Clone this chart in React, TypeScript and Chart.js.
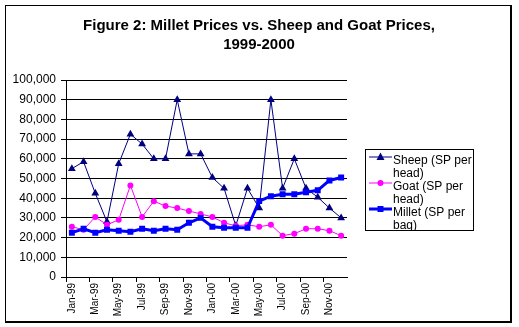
import React, { useEffect, useRef } from "react";
import { Chart, registerables } from "chart.js";

Chart.register(...registerables);

const months = [
  "Jan-99", "Feb-99", "Mar-99", "Apr-99", "May-99", "Jun-99",
  "Jul-99", "Aug-99", "Sep-99", "Oct-99", "Nov-99", "Dec-99",
  "Jan-00", "Feb-00", "Mar-00", "Apr-00", "May-00", "Jun-00",
  "Jul-00", "Aug-00", "Sep-00", "Oct-00", "Nov-00", "Dec-00",
];

const sheep = [
  55000, 58500, 42500, 28000, 57500, 72500, 67500, 60000, 60000, 90000, 62500, 62500,
  50500, 45000, 26000, 45000, 35000, 90000, 45000, 60000, 45000, 40500, 35000, 30000,
];

const goat = [
  25500, 24000, 30500, 26500, 29000, 46500, 30500, 38500, 36000, 35000, 33500, 32000,
  30500, 27500, 26000, 26500, 25500, 26500, 21000, 22000, 24500, 24500, 23500, 21000,
];

const millet = [
  22500, 24500, 22500, 24000, 23500, 23000, 24500, 23500, 24500, 24000, 27500, 30000,
  25500, 25000, 25000, 25000, 38500, 41000, 42000, 42000, 43000, 44000, 49000, 50500,
];

const titleLines = ["Figure 2: Millet Prices vs. Sheep and Goat Prices,", "1999-2000"];

const legendItems = [
  { lines: ["Sheep (SP per", "head)"], color: "#000080", width: 1, marker: "triangle" },
  { lines: ["Goat (SP per", "head)"], color: "#FF00FF", width: 1, marker: "circle" },
  { lines: ["Millet (SP per", "bag)"], color: "#0000FF", width: 3, marker: "square" },
];

const FONT = "Arial, 'Liberation Sans', sans-serif";

function drawMarker(ctx: CanvasRenderingContext2D, type: string, x: number, y: number, color: string) {
  ctx.fillStyle = color;
  ctx.beginPath();
  if (type === "triangle") {
    ctx.moveTo(x, y - 4.5);
    ctx.lineTo(x + 4, y + 3);
    ctx.lineTo(x - 4, y + 3);
    ctx.closePath();
  } else if (type === "circle") {
    ctx.arc(x, y, 3, 0, Math.PI * 2);
  } else {
    ctx.rect(x - 3, y - 3, 6, 6);
  }
  ctx.fill();
}

const decorPlugin = {
  id: "decor",
  beforeDraw(chart: any) {
    const ctx = chart.ctx as CanvasRenderingContext2D;
    ctx.save();
    ctx.fillStyle = "#ffffff";
    ctx.fillRect(0, 0, chart.width, chart.height);
    ctx.restore();
  },
  afterDraw(chart: any) {
    const ctx = chart.ctx as CanvasRenderingContext2D;
    ctx.save();
    // outer frame with shadowed right/bottom edges
    ctx.fillStyle = "#000000";
    ctx.fillRect(5, 5, 507, 1);
    ctx.fillRect(5, 5, 1, 318);
    ctx.fillRect(510, 5, 2, 318);
    ctx.fillRect(5, 321, 507, 2);

    // title
    ctx.fillStyle = "#000000";
    ctx.font = `bold 15px ${FONT}`;
    ctx.textAlign = "center";
    ctx.textBaseline = "alphabetic";
    ctx.fillText(titleLines[0], 259, 30);
    ctx.fillText(titleLines[1], 259, 49);

    // legend box
    const bx = 365.5, by = 149.5, bw = 108, bh = 81;
    ctx.fillStyle = "#ffffff";
    ctx.fillRect(bx, by, bw, bh);
    ctx.strokeStyle = "#000000";
    ctx.lineWidth = 1;
    ctx.strokeRect(bx, by, bw, bh);
    ctx.save();
    ctx.beginPath();
    ctx.rect(bx + 0.5, by + 0.5, bw - 1, bh - 1);
    ctx.clip();
    ctx.font = `12px ${FONT}`;
    ctx.textAlign = "left";
    ctx.fillStyle = "#000000";
    legendItems.forEach((item, i) => {
      const base = 164 + i * 26;
      const ly = base - 7;
      ctx.strokeStyle = item.color;
      ctx.lineWidth = item.width;
      ctx.beginPath();
      ctx.moveTo(369, ly);
      ctx.lineTo(392, ly);
      ctx.stroke();
      drawMarker(ctx, item.marker, 380.5, ly, item.color);
      ctx.fillStyle = "#000000";
      item.lines.forEach((t, j) => ctx.fillText(t, 393, base + j * 13));
    });
    ctx.restore();
    ctx.restore();
  },
};

export default function App() {
  const ref = useRef<HTMLCanvasElement | null>(null);

  useEffect(() => {
    if (!ref.current) return;
    const chart = new Chart(ref.current, {
      type: "line",
      data: {
        labels: months,
        datasets: [
          {
            label: "Sheep (SP per head)",
            data: sheep,
            borderColor: "#000080",
            backgroundColor: "#000080",
            borderWidth: 1,
            pointStyle: "triangle",
            pointRadius: 4.5,
            pointBorderWidth: 0,
            order: 3,
          },
          {
            label: "Goat (SP per head)",
            data: goat,
            borderColor: "#FF00FF",
            backgroundColor: "#FF00FF",
            borderWidth: 1,
            pointStyle: "circle",
            pointRadius: 3,
            pointBorderWidth: 0,
            order: 2,
          },
          {
            label: "Millet (SP per bag)",
            data: millet,
            borderColor: "#0000FF",
            backgroundColor: "#0000FF",
            borderWidth: 3,
            pointStyle: "rect",
            pointRadius: 4.2,
            pointBorderWidth: 0,
            order: 1,
          },
        ],
      },
      options: {
        animation: false,
        responsive: false,
        devicePixelRatio: 1,
        layout: { padding: { left: 0, top: 80, right: 172, bottom: 0 } },
        plugins: {
          legend: { display: false },
          title: { display: false },
          tooltip: { enabled: false },
        },
        scales: {
          x: {
            type: "category",
            offset: true,
            afterFit: (scale: any) => {
              scale.height = 50;
            },
            grid: {
              offset: true,
              drawOnChartArea: false,
              drawTicks: true,
              tickLength: 5,
              color: (c: any) => (c.index % 2 === 0 ? "#000000" : "rgba(0,0,0,0)"),
            },
            border: { color: "#000000", width: 1 },
            ticks: {
              autoSkip: false,
              maxRotation: 90,
              minRotation: 90,
              padding: 1,
              color: "#000000",
              font: { family: FONT, size: 10 },
              callback: (_v: any, i: number) => (i % 2 === 0 ? months[i] : ""),
            },
          },
          y: {
            min: 0,
            max: 100000,
            afterFit: (scale: any) => {
              scale.width = 66;
            },
            grid: {
              color: "#000000",
              lineWidth: 1,
              drawTicks: true,
              tickLength: 5,
            },
            border: { color: "#000000", width: 1 },
            ticks: {
              stepSize: 10000,
              padding: 5,
              color: "#000000",
              font: { family: FONT, size: 12 },
              callback: (v: any) => Number(v).toLocaleString("en-US"),
            },
          },
        },
      },
      plugins: [decorPlugin],
    });
    return () => chart.destroy();
  }, []);

  return (
    <div style={{ position: "absolute", left: 0, top: 0, width: 519, height: 327 }}>
      <canvas ref={ref} width={519} height={327} style={{ display: "block", width: 519, height: 327 }} />
    </div>
  );
}
